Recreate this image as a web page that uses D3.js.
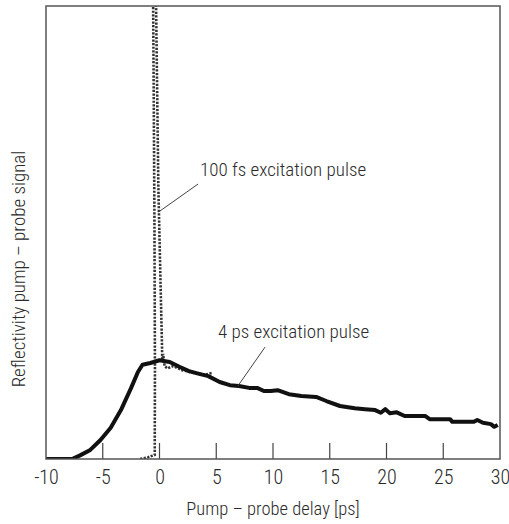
<!DOCTYPE html>
<html>
<head>
<meta charset="utf-8">
<script src="https://cdn.jsdelivr.net/npm/d3@7"></script>
<style>
  html, body { margin: 0; padding: 0; background: #fff; }
  svg text { font-family: "Liberation Sans Narrow", "Roboto Condensed", "Open Sans", sans-serif; fill: #2a2a2a; font-weight: 300; }
</style>
</head>
<body>
<svg id="chart" width="509" height="524"></svg>
<script>
// Pump-probe delay [ps] and normalized reflectivity signal (arb. units)
const delay4ps = [-10, -7.7, -7.0, -6.1, -5.2, -4.3, -3.4, -2.5, -1.9, -1.5, -0.8, 0.0,
  0.9, 1.8, 2.6, 3.5, 4.3, 5.3, 6.2, 7.0, 7.9, 8.6, 9.2, 9.8, 10.4, 11.4, 12.5, 13.8, 14.7,
  15.9, 17.2, 18.1, 19.0, 19.5, 19.9, 20.3, 20.9, 21.6, 23.4, 23.8, 25.6, 25.8, 27.7, 28.0,
  28.5, 29.2, 29.5, 29.8];
const signal4ps = [0.0, 0.0, 0.008, 0.020, 0.042, 0.069, 0.108, 0.157, 0.192, 0.208, 0.212, 0.218,
  0.214, 0.203, 0.194, 0.188, 0.183, 0.170, 0.163, 0.161, 0.157, 0.157, 0.150, 0.150, 0.152, 0.143, 0.139,
  0.137, 0.128, 0.117, 0.112, 0.110, 0.108, 0.102, 0.110, 0.101, 0.103, 0.095, 0.095, 0.088, 0.088,
  0.082, 0.082, 0.086, 0.080, 0.077, 0.071, 0.075];

const delay100fs = [-1.7, -1.0, -0.42, -0.40, -0.45, -0.52, -0.56, -0.50, -0.3, -0.10, 0.08,
  0.22, 0.24, 0.32, 0.45, 0.7, 1.2, 2.0, 3.0, 4.0, 4.6];
const signal100fs = [0.0, 0.004, 0.009, 0.2, 0.55, 0.85, 1.0, 1.3, 1.0, 0.6, 0.4,
  0.25, 0.215, 0.232, 0.205, 0.20, 0.205, 0.196, 0.190, 0.186, 0.190];

const xTicks = [-10, -5, 0, 5, 10, 15, 20, 25, 30];
const innerTicks = [-5, 0, 5, 10, 15, 20, 25];
const xTitle = "Pump – probe delay [ps]";
const yTitle = "Reflectivity pump – probe signal";
const label100fs = "100 fs excitation pulse";
const label4ps = "4 ps excitation pulse";

const svg = d3.select("#chart");
const mLeft = 46, mRight = 500, mTop = 6, mBottom = 459;

const x = d3.scaleLinear().domain([-10, 30]).range([mLeft, mRight]);
const y = d3.scaleLinear().domain([0, 1]).range([mBottom, mTop]);

svg.append("defs").append("clipPath").attr("id", "clip")
  .append("rect").attr("x", mLeft).attr("y", mTop).attr("width", mRight - mLeft).attr("height", mBottom - mTop);

// inner ticks (pointing up from bottom)
const tickLen = 16;
svg.append("g").selectAll("line").data(innerTicks).join("line")
  .attr("x1", d => x(d)).attr("x2", d => x(d))
  .attr("y1", mBottom).attr("y2", mBottom - tickLen)
  .attr("stroke", "#444").attr("stroke-width", 1.2);

// x axis labels via d3 axis
const xAxis = d3.axisBottom(x).tickValues(xTicks).tickSize(0).tickPadding(11)
  .tickFormat(d => String(d));
const gx = svg.append("g").attr("transform", `translate(0,${mBottom})`).call(xAxis);
gx.attr("font-family", null).attr("font-size", null);
gx.select(".domain").remove();
gx.selectAll("text").attr("font-size", 20).attr("fill", "#2a2a2a");

// series
const line = d3.line().x(d => x(d[0])).y(d => y(d[1]));
const g = svg.append("g").attr("clip-path", "url(#clip)");

g.append("path")
  .datum(delay100fs.map((d, i) => [d, signal100fs[i]]))
  .attr("d", line)
  .attr("fill", "none").attr("stroke", "#333").attr("stroke-width", 2.6)
  .attr("stroke-dasharray", "2.2,1.4");

g.append("path")
  .datum(delay4ps.map((d, i) => [d, signal4ps[i]]))
  .attr("d", line)
  .attr("fill", "none").attr("stroke", "#111").attr("stroke-width", 4)
  .attr("stroke-linejoin", "round");

// frame
svg.append("rect").attr("x", mLeft).attr("y", mTop).attr("width", mRight - mLeft).attr("height", mBottom - mTop)
  .attr("fill", "none").attr("stroke", "#555").attr("stroke-width", 1.5);

// annotations
svg.append("line").attr("x1", x(-0.1)).attr("y1", y(0.545)).attr("x2", x(3.4)).attr("y2", y(0.607))
  .attr("stroke", "#444").attr("stroke-width", 1);
svg.append("text").attr("x", 200).attr("y", 176).attr("font-size", 19).text(label100fs);

svg.append("line").attr("x1", x(6.9)).attr("y1", y(0.161)).attr("x2", x(9.3)).attr("y2", y(0.247))
  .attr("stroke", "#444").attr("stroke-width", 1);
svg.append("text").attr("x", 218).attr("y", 338).attr("font-size", 19).text(label4ps);

// axis titles
svg.append("text").attr("x", 273).attr("y", 515).attr("text-anchor", "middle")
  .attr("font-size", 18.5).text(xTitle);
svg.append("text").attr("transform", "translate(25,269) rotate(-90)").attr("text-anchor", "middle")
  .attr("font-size", 19).text(yTitle);
</script>
</body>
</html>
